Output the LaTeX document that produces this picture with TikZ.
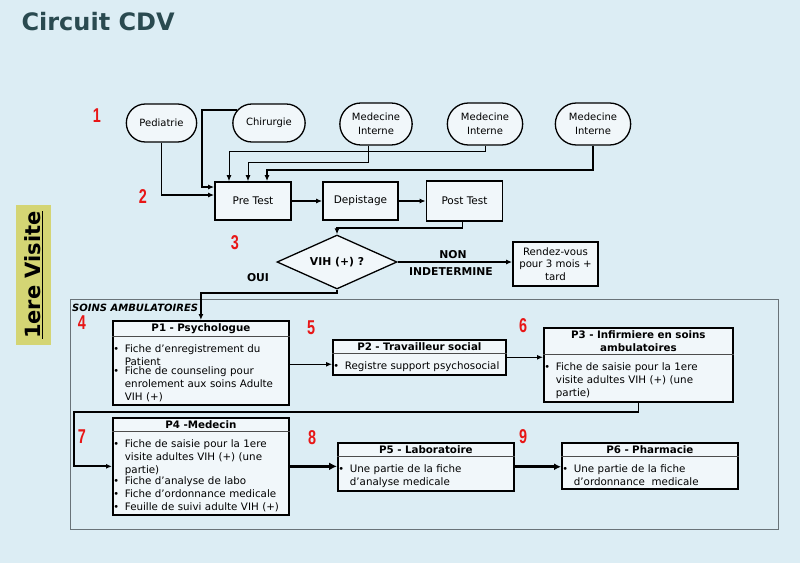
\documentclass[tikz,border=0pt]{standalone}
\usepackage{fontspec}
\usepackage{graphicx}
\setmainfont{DejaVu Sans}
\newfontfamily\numfont{Liberation Sans}
\usetikzlibrary{arrows.meta,shapes.geometric,shapes.misc,shapes.multipart}

\definecolor{fond}{RGB}{220,237,244}
\definecolor{boite}{RGB}{241,247,250}
\definecolor{titre}{RGB}{42,74,80}
\definecolor{rouge}{RGB}{232,22,22}
\definecolor{jaune}{RGB}{212,213,116}
\definecolor{cadre}{RGB}{105,115,120}

% puce pour les listes des postes
\newcommand{\itm}[1]{\par\noindent\makebox[10pt][l]{\hspace*{-1.5pt}\raisebox{0.5pt}{\scalebox{0.95}{\textbullet}}}%
  \parbox[t]{\dimexpr\hsize-10pt\relax}{\raggedright #1}}

\tikzset{
  svc/.style={rounded rectangle, draw, line width=1.3pt, fill=boite,
    minimum width=77pt, minimum height=38pt, align=center,
    font=\fontsize{10}{14.5}\selectfont},
  etape/.style={rectangle, draw, line width=1.8pt, fill=boite,
    minimum width=76pt, minimum height=38pt, align=center,
    font=\fontsize{10.5}{13}\selectfont},
  poste/.style={rectangle split, rectangle split parts=2, draw,
    rectangle split draw splits=false,
    line width=1.8pt, fill=boite, inner xsep=2pt, inner ysep=2pt,
    align=left, anchor=north west, font=\fontsize{10.3}{13}\selectfont},
  trait/.style={line width=0.6pt, black!70},
  lien/.style={line width=1.1pt, -{Latex[length=6pt,width=5pt]}},
  lienfin/.style={line width=0.8pt, -{Latex[length=6pt,width=5pt]}},
  lienfort/.style={line width=1.8pt, -{Latex[length=6pt,width=5pt]}},
  stepno/.style={text=rouge, font=\numfont\bfseries\fontsize{20}{20}\selectfont},
  etiq/.style={font=\bfseries\fontsize{10.8}{12}\selectfont},
}

\begin{document}
\begin{tikzpicture}[x=1pt,y=-1pt]
  % fond
  \fill[fond] (0,0) rectangle (800,563);
  \useasboundingbox (0,0) rectangle (800,563);

  % titre
  \node[anchor=base west, text=titre, font=\bfseries\fontsize{24}{24}\selectfont]
    (titre) at (18,30) {Circuit CDV};
  \node[fill=jaune, rotate=90, minimum width=140pt, minimum height=35pt,
    inner sep=0pt, font=\bfseries\fontsize{21}{21}\selectfont]
    (visite) at (33.5,275) {\underline{1ere Visite}};

  % cadre soins ambulatoires
  \draw[cadre, line width=0.8pt] (70,299) rectangle (778,529);
  \node[anchor=west, inner sep=1pt, font=\bfseries\itshape\fontsize{10}{12}\selectfont]
    (soins) at (71,308) {SOINS AMBULATOIRES};

  % numeros des etapes
  \foreach \n/\x/\y in {1/97/116, 2/143/197, 3/235/243, 4/82/323, 5/311/328,
                        6/523/326, 7/82/437, 8/312/438, 9/523/437}
  {
    \node[stepno] (num\n) at (\x,\y) {\scalebox{0.72}[1]{\n}};
  }

  % services d'origine
  \node[svc] (ped) at (161.5,123) {Pediatrie};
  \node[svc, minimum width=79pt] (chi) at (269,123) {Chirurgie};
  \node[svc, minimum width=79pt, minimum height=42pt] (mi1) at (376,124) {Medecine\\Interne};
  \node[svc, minimum width=82pt, minimum height=42pt] (mi2) at (485,124) {Medecine\\Interne};
  \node[svc, minimum width=82pt, minimum height=42pt] (mi3) at (593,124) {Medecine\\Interne};

  % test
  \node[etape] (pre) at (253,201) {Pre Test};
  \node[etape, minimum width=75pt] (dep) at (360.5,201) {Depistage};
  \node[etape, minimum height=40pt] (post) at (464.5,201) {Post Test};
  \node[diamond, draw, aspect=2.2, line width=1.3pt, fill=boite, minimum width=120pt,
    minimum height=54pt, inner sep=0pt, etiq] (vih) at (337,262) {VIH (+) ?};
  \node[etape, minimum width=85pt, minimum height=44pt,
    font=\fontsize{10.2}{12.7}\selectfont] (rdv) at (555.5,264) {Rendez-vous\\pour 3 mois +\\tard};
  \node[etiq] (non) at (453,255) {NON};
  \node[etiq] (indet) at (451,272) {INDETERMINE};
  \node[etiq] (oui) at (258,278) {OUI};

  % postes
  \node[poste, text width=172pt] (p1) at (112,320)
    {\centering\bfseries P1 - Psychologue\par
     \nodepart{two}\itm{Fiche d'enregistrement du Patient}
     \itm{Fiche de counseling pour enrolement aux soins Adulte VIH (+)}};
  \node[poste, text width=169pt] (p2) at (332,339)
    {\centering\bfseries P2 - Travailleur social\par
     \nodepart{two}\itm{Registre support psychosocial}};
  \node[poste, text width=185pt] (p3) at (543,327)
    {\centering\bfseries P3 - Infirmiere en soins\\ambulatoires\par
     \nodepart{two}\itm{Fiche de saisie pour la 1ere\\visite adultes VIH (+) (une\\partie)}};
  \node[poste, text width=172pt] (p4) at (112,417)
    {\centering\bfseries P4 -Medecin\par
     \nodepart{two}\itm{Fiche de saisie pour la 1ere visite adultes VIH (+) (une partie)}
     \itm{Fiche d'analyse de labo}
     \itm{Fiche d'ordonnance medicale}
     \itm{Feuille de suivi adulte VIH (+)}};
  \node[poste, text width=172pt] (p5) at (337,442)
    {\centering\bfseries P5 - Laboratoire\par
     \nodepart{two}\itm{Une partie de la fiche d'analyse medicale}};
  \node[poste, text width=172pt] (p6) at (561,442)
    {\centering\bfseries P6 - Pharmacie\par
     \nodepart{two}\itm{Une partie de la fiche d'ordonnance~~medicale}};

  % separations des en-tetes
  \foreach \p in {p1,p2,p3,p4,p5,p6}
    \draw[trait] (\p.text split west) -- (\p.text split east);

  % liaisons vers le pre test
  \coordinate (busA) at (0,151);
  \coordinate (busB) at (0,162);
  \coordinate (busC) at (0,170);
  \draw[lienfort] (ped.south) |- ([yshift=6pt]pre.west);
  \draw[lienfort] (chi.158) -| ([xshift=-12pt,yshift=14pt]pre.west)
    -- ([yshift=14pt]pre.west);
  \draw[lienfin] (mi2.south) -- (mi2.south |- busA) -| ([xshift=-24pt]pre.north);
  \draw[lienfin] ([xshift=-8pt]mi1.south) -- ([xshift=-8pt]mi1.south |- busB)
    -| ([xshift=-5pt]pre.north);
  \draw[lienfort] (mi3.south) -- (mi3.south |- busC) -| ([xshift=14pt]pre.north);

  % enchainement du test
  \draw[lien] (pre.east) -- (dep.west);
  \draw[lien] (dep.east) -- (post.west);
  \draw[lienfort] ([xshift=-2pt]post.south) -- ++(0,6) -| (vih.north);
  \draw[lienfort] (vih.east) -- (vih.east -| rdv.west);
  \draw[lienfort] (vih.south) -- ++(0,3) -| (p1.north);

  % enchainement des postes
  \coordinate (ret) at (74,412);
  \draw[lien] ([yshift=-7pt]p2.west -| p1.east) -- ([yshift=-7pt]p2.west);
  \draw[lien] (p2.east) -- (p2.east -| p3.west);
  \draw[lienfort] (p3.south) |- (ret) |- (p4.west);
  \draw[line width=3.5pt, -{Latex[length=8pt,width=8pt]}] (p4.east) -- (p4.east -| p5.west);
  \draw[line width=2.6pt, -{Latex[length=7pt,width=7pt]}] (p5.east) -- (p5.east -| p6.west);
\end{tikzpicture}
\end{document}
